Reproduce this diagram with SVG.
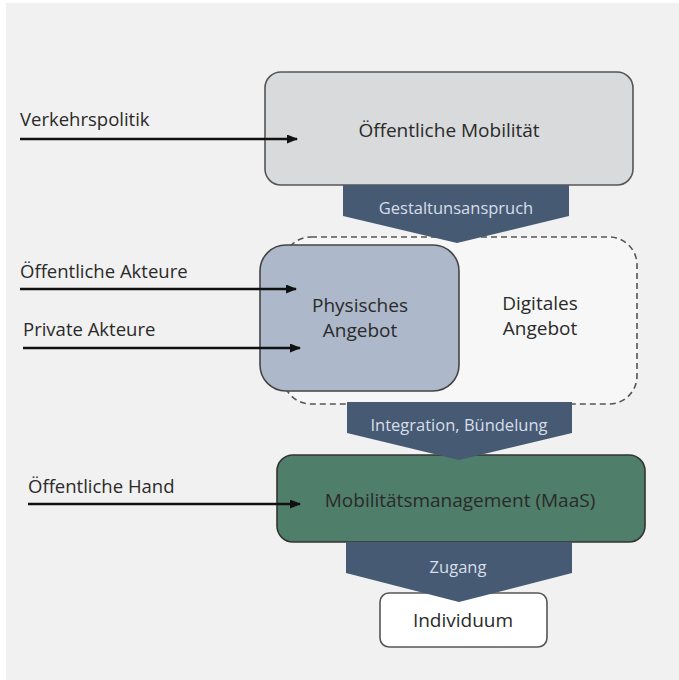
<svg xmlns="http://www.w3.org/2000/svg" width="679" height="680" viewBox="0 0 679 680">
<defs>
<marker id="ah" markerWidth="11" markerHeight="9" refX="10" refY="4.5" orient="auto" markerUnits="userSpaceOnUse">
<path d="M0,0 L11,4.5 L0,9 Z" fill="#111"/>
</marker>
<style>
text{font-family:"Open Sans","Noto Sans","DejaVu Sans",sans-serif;}
.lbl{font-size:18.5px;fill:#2a2a2a;}
.node{font-size:19px;fill:#2a2a2a;text-anchor:middle;}
.chev{fill:#475a73;}
.chevt{font-size:16.5px;fill:#d6deea;text-anchor:middle;}
.conn{stroke:#111;stroke-width:2.4;fill:none;marker-end:url(#ah);}
</style>
</defs>
<rect x="0" y="0" width="679" height="680" fill="#ffffff"/>
<rect x="6" y="3" width="673" height="677" fill="#f1f1f1"/>

<g id="oeffentliche-mobilitaet">
<rect x="265" y="72" width="368" height="113" rx="16" fill="#d9dadb" stroke="#555" stroke-width="1.6"/>
<text class="node" x="449" y="137">Öffentliche Mobilität</text>
</g>

<g id="angebot-container">
<rect x="283" y="237" width="354" height="167" rx="28" fill="#f7f7f7" stroke="#555" stroke-width="1.6" stroke-dasharray="6,4"/>
</g>

<g id="physisches-angebot">
<rect x="260" y="245" width="199" height="146" rx="26" fill="#adb9ca" stroke="#444" stroke-width="1.6"/>
<text class="node" x="360" y="312">Physisches</text>
<text class="node" x="360" y="337">Angebot</text>
</g>

<g id="digitales-angebot">
<text class="node" x="540" y="310">Digitales</text>
<text class="node" x="540" y="335">Angebot</text>
</g>

<g id="mobilitaetsmanagement">
<rect x="277" y="455" width="368" height="87" rx="16" fill="#4f7e6b" stroke="#333" stroke-width="1.6"/>
<text class="node" x="460" y="507">Mobilitätsmanagement (MaaS)</text>
</g>

<g id="individuum">
<rect x="380" y="593" width="167" height="54" rx="9" fill="#ffffff" stroke="#555" stroke-width="1.6"/>
<text class="node" x="463" y="627">Individuum</text>
</g>

<g id="chevron-gestaltung">
<polygon class="chev" points="343,185 569,185 569,216 457,243 343,216"/>
<text class="chevt" x="456" y="214">Gestaltunsanspruch</text>
</g>

<g id="chevron-integration">
<polygon class="chev" points="347,402 572,402 572,433 459,460 347,433"/>
<text class="chevt" x="459" y="431">Integration, Bündelung</text>
</g>

<g id="chevron-zugang">
<polygon class="chev" points="346,542 572,542 572,573 459,602 346,573"/>
<text class="chevt" x="458" y="573">Zugang</text>
</g>

<g id="connectors">
<line class="conn" x1="20" y1="139" x2="297" y2="139"/>
<line class="conn" x1="20" y1="289" x2="296" y2="289"/>
<line class="conn" x1="23" y1="348" x2="300" y2="348"/>
<line class="conn" x1="28" y1="504" x2="300" y2="504"/>
</g>

<g id="labels">
<text class="lbl" x="20" y="126">Verkehrspolitik</text>
<text class="lbl" x="20" y="278">Öffentliche Akteure</text>
<text class="lbl" x="23" y="336">Private Akteure</text>
<text class="lbl" x="28" y="493">Öffentliche Hand</text>
</g>
</svg>
